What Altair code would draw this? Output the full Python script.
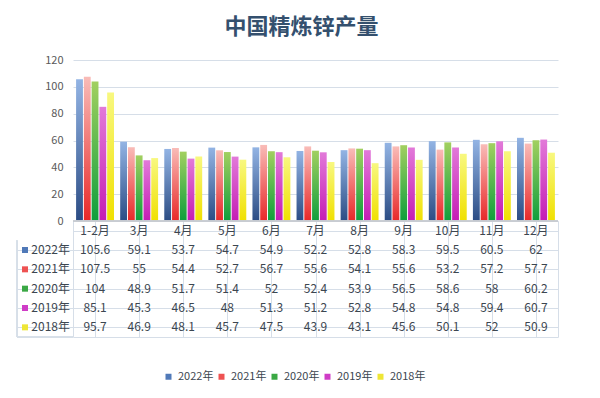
import altair as alt
import pandas as pd

FONT = "Noto Sans CJK SC"
LINE = "#d6dee8"

months = ["1-2月", "3月", "4月", "5月", "6月", "7月", "8月", "9月", "10月", "11月", "12月"]
series = ["2022年", "2021年", "2020年", "2019年", "2018年"]
v2022 = [105.6, 59.1, 53.7, 54.7, 54.9, 52.2, 52.8, 58.3, 59.5, 60.5, 62]
v2021 = [107.5, 55, 54.4, 52.7, 56.7, 55.6, 54.1, 55.6, 53.2, 57.2, 57.7]
v2020 = [104, 48.9, 51.7, 51.4, 52, 52.4, 53.9, 56.5, 58.6, 58, 60.2]
v2019 = [85.1, 45.3, 46.5, 48, 51.3, 51.2, 52.8, 54.8, 54.8, 59.4, 60.7]
v2018 = [95.7, 46.9, 48.1, 45.7, 47.5, 43.9, 43.1, 45.6, 50.1, 52, 50.9]
values = [v2022, v2021, v2020, v2019, v2018]

grad_top = ["#93b4e4", "#f9bcb8", "#a2d060", "#e27ad9", "#f8f880"]
grad_bot = ["#2b4c84", "#e82828", "#0e9e3c", "#c41cb4", "#f0e000"]
legend_colors = ["#5079b8", "#ee5252", "#3aa844", "#cf3cc6", "#eee636"]

W, H1, H2 = 485, 161, 116

bars_df = pd.DataFrame(
    [{"month": m, "series": s, "value": v}
     for s, vals in zip(series, values) for m, v in zip(months, vals)]
)

table_rows = [{"month": m, "row": "hdr", "text": m} for m in months]
for s, vals in zip(series, values):
    for m, v in zip(months, vals):
        table_rows.append({"month": m, "row": s, "text": f"{v:g}"})
table_df = pd.DataFrame(table_rows)
label_df = pd.DataFrame({"row": series})

xscale = alt.Scale(domain=months, paddingInner=0.14, paddingOuter=0.07)
layers = []
for s, top, bot in zip(series, grad_top, grad_bot):
    grad = alt.LinearGradient(
        gradient="linear",
        stops=[alt.GradientStop(color=top, offset=0), alt.GradientStop(color=bot, offset=1)],
        x1=0, x2=0, y1=0, y2=1,
    )
    layers.append(
        alt.Chart(bars_df)
        .transform_filter(alt.datum.series == s)
        .mark_bar(color=grad)
        .encode(
            x=alt.X("month:N", scale=xscale, sort=months, axis=None),
            xOffset=alt.XOffset("series:N", scale=alt.Scale(domain=series, paddingInner=0.12)),
            y=alt.Y("value:Q", scale=alt.Scale(domain=[0, 120]),
                    axis=alt.Axis(values=[0, 20, 40, 60, 80, 100, 120], title=None, domain=False,
                                  ticks=False, gridColor=LINE, labelColor="#595959",
                                  labelFontSize=11, labelFont=FONT, labelPadding=10)),
        )
    )
top_chart = alt.layer(*layers).properties(
    width=W, height=H1, view=alt.ViewBackground(stroke="transparent")
)

tscale = alt.Scale(domain=months, paddingInner=0, paddingOuter=0)
yscale = alt.Scale(domain=["hdr"] + series, paddingInner=0, paddingOuter=0)

cells = alt.Chart(table_df).mark_text(fontSize=12, font=FONT, color="#3c4650").encode(
    x=alt.X("month:N", scale=tscale, sort=months,
            axis=alt.Axis(labels=False, ticks=False, domain=False, title=None, grid=True,
                          bandPosition=0, gridColor=LINE)),
    y=alt.Y("row:N", scale=yscale, sort=["hdr"] + series,
            axis=alt.Axis(labels=False, domain=False, title=None, grid=True, bandPosition=0,
                          gridColor=LINE, ticks=True, tickSize=56,
                          tickColor={"condition": {"test": "datum.value === 'hdr'", "value": "transparent"},
                                     "value": LINE})),
    text="text:N",
)

row_labels = alt.Chart(label_df).mark_text(fontSize=12, font=FONT, color="#3c4650", align="right").encode(
    x=alt.value(-3),
    y=alt.Y("row:N", scale=yscale, sort=["hdr"] + series),
    text="row:N",
)

squares = alt.Chart(label_df).mark_square(size=36, opacity=1).encode(
    x=alt.value(-48),
    y=alt.Y("row:N", scale=yscale, sort=["hdr"] + series),
    color=alt.Color("row:N", scale=alt.Scale(domain=series, range=legend_colors),
                    legend=alt.Legend(orient="none", legendX=90, legendY=150, direction="horizontal",
                                      title=None, symbolType="square",
                                      symbolSize=36, labelFont=FONT, labelFontSize=11,
                                      labelColor="#3c4650", columnPadding=2, labelOffset=4,
                                      symbolStrokeWidth=0)),
)

left_border = alt.Chart(label_df).mark_rule(color=LINE).encode(
    x=alt.value(-56), y=alt.value(H2 / 6), y2=alt.value(H2)
)
bottom_left = alt.Chart(label_df).mark_rule(color=LINE).encode(
    x=alt.value(-56), x2=alt.value(0), y=alt.value(H2)
)
top_line = alt.Chart(label_df).mark_rule(color="#c8ccd2").encode(
    x=alt.value(0), x2=alt.value(W), y=alt.value(0)
)

table_chart = alt.layer(left_border, bottom_left, cells, row_labels, squares, top_line).properties(
    width=W, height=H2, view=alt.ViewBackground(stroke=LINE)
)

chart = (
    alt.vconcat(top_chart, table_chart, spacing=0, bounds="flush")
    .resolve_scale(x="independent", color="independent")
    .properties(
        title=alt.TitleParams("中国精炼锌产量", fontSize=22, font=FONT, fontWeight="bold",
                              color="#34506e", anchor="middle", offset=15, dx=14),
        padding={"left": 8, "top": 7, "right": 10, "bottom": 5},
        background="white",
    )
)

chart.save("out.html", embed_options={"renderer": "svg", "actions": False})
